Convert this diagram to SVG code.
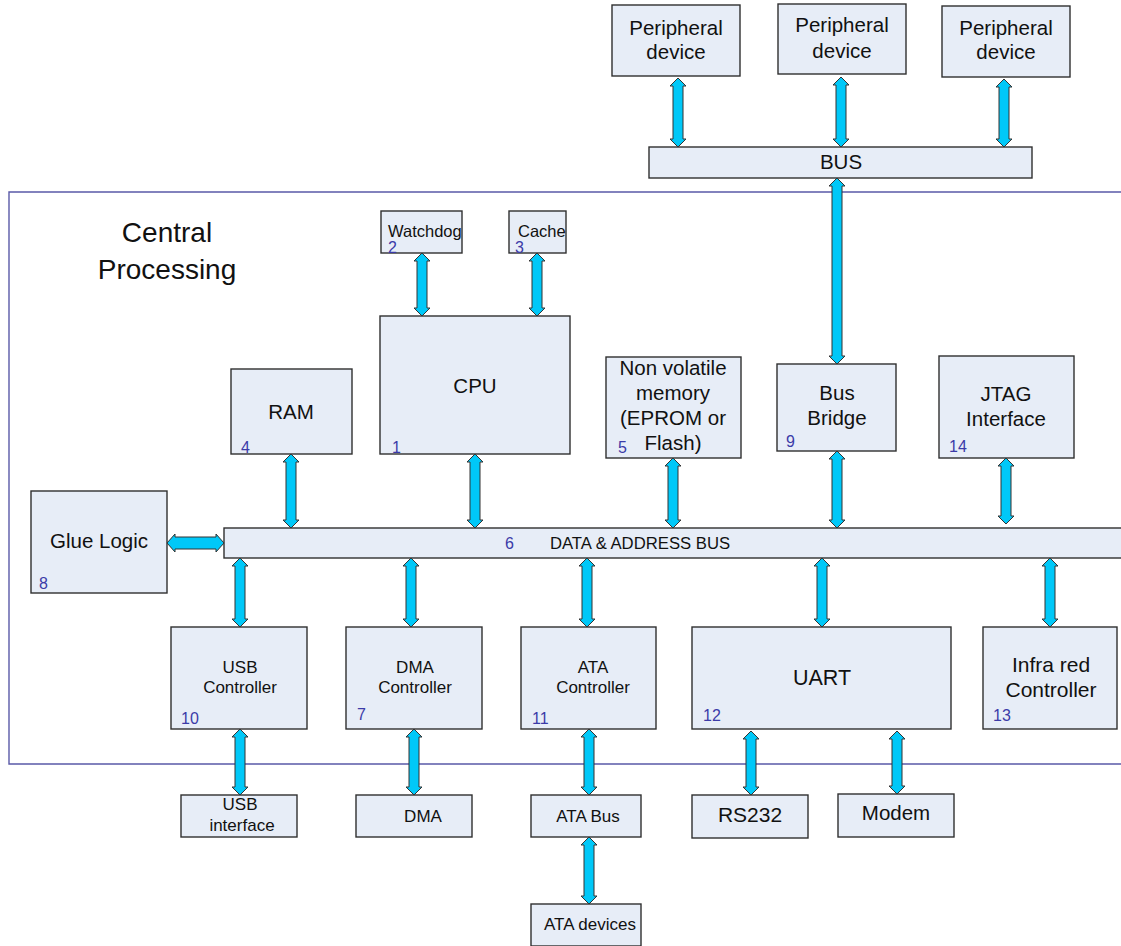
<svg xmlns="http://www.w3.org/2000/svg" width="1121" height="946" viewBox="0 0 1121 946">
  <style>
    .box { fill: #E7EDF7; stroke: #2f2f2f; stroke-width: 1.4; }
    .lbl { font-family: "Liberation Sans", Arial, sans-serif; fill: #111; text-anchor: middle; }
    .start { text-anchor: start; font-size: 16.5px; }
    .big { font-size: 20.5px; }
    .small { font-size: 17px; }
    .num { font-family: "Liberation Sans", Arial, sans-serif; fill: #3b3ba8; font-size: 16px; }
    .arrow { fill: #00C8F8; stroke: #333; stroke-width: 1; }
    .frame { fill: none; stroke: #5a5aa8; stroke-width: 1.4; }
  </style>
  <rect width="1121" height="946" fill="#ffffff"/>

  <!-- system boundary -->
  <path class="frame" d="M1121,192 L9,192 L9,764 L1121,764"/>
  <text class="lbl" x="167" y="242" font-size="28">Central</text>
  <text class="lbl" x="167" y="279" font-size="28">Processing</text>

  <!-- external bus and peripherals -->
  <g id="peripheral1"><rect class="box" x="612" y="5" width="128" height="71"/>
    <text class="lbl big" x="676" y="35">Peripheral</text>
    <text class="lbl big" x="676" y="59">device</text></g>
  <g id="peripheral2"><rect class="box" x="778" y="4" width="128" height="70"/>
    <text class="lbl big" x="842" y="32">Peripheral</text>
    <text class="lbl big" x="842" y="58">device</text></g>
  <g id="peripheral3"><rect class="box" x="942" y="6" width="128" height="71"/>
    <text class="lbl big" x="1006" y="35">Peripheral</text>
    <text class="lbl big" x="1006" y="59">device</text></g>
  <g id="bus"><rect class="box" x="649" y="147" width="383" height="31"/>
    <text class="lbl big" x="841" y="169">BUS</text></g>

  <!-- processor and companions -->
  <g id="watchdog"><rect class="box" x="381" y="211" width="81" height="42"/>
    <text class="lbl start" x="388" y="237">Watchdog</text>
    <text class="num" x="388" y="253">2</text></g>
  <g id="cache"><rect class="box" x="509" y="211" width="57" height="42"/>
    <text class="lbl start" x="518" y="237">Cache</text>
    <text class="num" x="515" y="253">3</text></g>
  <g id="cpu"><rect class="box" x="380" y="316" width="190" height="138"/>
    <text class="lbl big" x="475" y="393">CPU</text>
    <text class="num" x="392" y="453">1</text></g>
  <g id="ram"><rect class="box" x="231" y="369" width="121" height="85"/>
    <text class="lbl big" x="291" y="419">RAM</text>
    <text class="num" x="241" y="453">4</text></g>
  <g id="nvm"><rect class="box" x="606" y="357" width="135" height="101"/>
    <text class="lbl big" x="673" y="375">Non volatile</text>
    <text class="lbl big" x="673" y="400">memory</text>
    <text class="lbl big" x="673" y="425">(EPROM or</text>
    <text class="lbl big" x="673" y="450">Flash)</text>
    <text class="num" x="618" y="453">5</text></g>
  <g id="busbridge"><rect class="box" x="777" y="364" width="119" height="87"/>
    <text class="lbl big" x="837" y="400">Bus</text>
    <text class="lbl big" x="837" y="425">Bridge</text>
    <text class="num" x="786" y="447">9</text></g>
  <g id="jtag"><rect class="box" x="939" y="356" width="135" height="102"/>
    <text class="lbl big" x="1006" y="401">JTAG</text>
    <text class="lbl big" x="1006" y="426">Interface</text>
    <text class="num" x="949" y="452">14</text></g>

  <!-- internal bus -->
  <g id="databus"><rect class="box" x="224" y="528" width="900" height="30"/>
    <text class="num" x="505" y="549">6</text>
    <text class="lbl" x="640" y="549" font-size="16.7">DATA &amp; ADDRESS BUS</text></g>
  <g id="gluelogic"><rect class="box" x="31" y="491" width="136" height="102"/>
    <text class="lbl big" x="99" y="548">Glue Logic</text>
    <text class="num" x="39" y="589">8</text></g>

  <!-- controllers -->
  <g id="usbctrl"><rect class="box" x="171" y="627" width="136" height="102"/>
    <text class="lbl small" x="240" y="673">USB</text>
    <text class="lbl small" x="240" y="693">Controller</text>
    <text class="num" x="181" y="724">10</text></g>
  <g id="dmactrl"><rect class="box" x="346" y="627" width="136" height="102"/>
    <text class="lbl small" x="415" y="673">DMA</text>
    <text class="lbl small" x="415" y="693">Controller</text>
    <text class="num" x="357" y="720">7</text></g>
  <g id="atactrl"><rect class="box" x="521" y="627" width="135" height="102"/>
    <text class="lbl small" x="593" y="673">ATA</text>
    <text class="lbl small" x="593" y="693">Controller</text>
    <text class="num" x="532" y="724">11</text></g>
  <g id="uart"><rect class="box" x="692" y="627" width="259" height="102"/>
    <text class="lbl" x="822" y="685" font-size="21.5">UART</text>
    <text class="num" x="703" y="721">12</text></g>
  <g id="irctrl"><rect class="box" x="983" y="627" width="134" height="102"/>
    <text class="lbl" x="1051" y="672" font-size="21">Infra red</text>
    <text class="lbl" x="1051" y="697" font-size="21">Controller</text>
    <text class="num" x="993" y="721">13</text></g>

  <!-- external interfaces -->
  <g id="usbif"><rect class="box" x="181" y="795" width="116" height="42"/>
    <text class="lbl small" x="240" y="810">USB</text>
    <text class="lbl small" x="242" y="831">interface</text></g>
  <g id="dma"><rect class="box" x="356" y="795" width="116" height="42"/>
    <text class="lbl small" x="423" y="822">DMA</text></g>
  <g id="atabus"><rect class="box" x="531" y="795" width="110" height="42"/>
    <text class="lbl small" x="588" y="822">ATA Bus</text></g>
  <g id="atadevices"><rect class="box" x="531" y="904" width="110" height="42"/>
    <text class="lbl small" x="590" y="930">ATA devices</text></g>
  <g id="rs232"><rect class="box" x="692" y="795" width="116" height="43"/>
    <text class="lbl" x="750" y="822" font-size="21">RS232</text></g>
  <g id="modem"><rect class="box" x="838" y="794" width="116" height="43"/>
    <text class="lbl big" x="896" y="820">Modem</text></g>

  <!-- double-headed connectors -->
  <g id="connectors">
    <path class="arrow" d="M670,86 L678,78 L686,86 L683,86 L683,139 L686,139 L678,147 L670,139 L673,139 L673,86 Z"/>
    <path class="arrow" d="M833,85 L841,77 L849,85 L846,85 L846,139 L849,139 L841,147 L833,139 L836,139 L836,85 Z"/>
    <path class="arrow" d="M996,87 L1004,79 L1012,87 L1009,87 L1009,139 L1012,139 L1004,147 L996,139 L999,139 L999,87 Z"/>
    <path class="arrow" d="M829,186 L837,178 L845,186 L842,186 L842,356 L845,356 L837,364 L829,356 L832,356 L832,186 Z"/>
    <path class="arrow" d="M414,261 L422,253 L430,261 L427,261 L427,308 L430,308 L422,316 L414,308 L417,308 L417,261 Z"/>
    <path class="arrow" d="M529,261 L537,253 L545,261 L542,261 L542,308 L545,308 L537,316 L529,308 L532,308 L532,261 Z"/>
    <path class="arrow" d="M283,462 L291,454 L299,462 L296,462 L296,520 L299,520 L291,528 L283,520 L286,520 L286,462 Z"/>
    <path class="arrow" d="M467,462 L475,454 L483,462 L480,462 L480,520 L483,520 L475,528 L467,520 L470,520 L470,462 Z"/>
    <path class="arrow" d="M665,466 L673,458 L681,466 L678,466 L678,520 L681,520 L673,528 L665,520 L668,520 L668,466 Z"/>
    <path class="arrow" d="M829,459 L837,451 L845,459 L842,459 L842,520 L845,520 L837,528 L829,520 L832,520 L832,459 Z"/>
    <path class="arrow" d="M998,466 L1006,458 L1014,466 L1011,466 L1011,516 L1014,516 L1006,524 L998,516 L1001,516 L1001,466 Z"/>
    <path class="arrow" d="M232,566 L240,558 L248,566 L245,566 L245,619 L248,619 L240,627 L232,619 L235,619 L235,566 Z"/>
    <path class="arrow" d="M403,566 L411,558 L419,566 L416,566 L416,619 L419,619 L411,627 L403,619 L406,619 L406,566 Z"/>
    <path class="arrow" d="M579,566 L587,558 L595,566 L592,566 L592,619 L595,619 L587,627 L579,619 L582,619 L582,566 Z"/>
    <path class="arrow" d="M814,566 L822,558 L830,566 L827,566 L827,619 L830,619 L822,627 L814,619 L817,619 L817,566 Z"/>
    <path class="arrow" d="M1042,566 L1050,558 L1058,566 L1055,566 L1055,619 L1058,619 L1050,627 L1042,619 L1045,619 L1045,566 Z"/>
    <path class="arrow" d="M232,737 L240,729 L248,737 L245,737 L245,787 L248,787 L240,795 L232,787 L235,787 L235,737 Z"/>
    <path class="arrow" d="M406,737 L414,729 L422,737 L419,737 L419,787 L422,787 L414,795 L406,787 L409,787 L409,737 Z"/>
    <path class="arrow" d="M581,737 L589,729 L597,737 L594,737 L594,787 L597,787 L589,795 L581,787 L584,787 L584,737 Z"/>
    <path class="arrow" d="M581,845 L589,837 L597,845 L594,845 L594,896 L597,896 L589,904 L581,896 L584,896 L584,845 Z"/>
    <path class="arrow" d="M743,739 L751,731 L759,739 L756,739 L756,787 L759,787 L751,795 L743,787 L746,787 L746,739 Z"/>
    <path class="arrow" d="M889,739 L897,731 L905,739 L902,739 L902,786 L905,786 L897,794 L889,786 L892,786 L892,739 Z"/>
    <path class="arrow" d="M175,534 L167,543 L175,552 L175,549 L216,549 L216,552 L224,543 L216,534 L216,537 L175,537 Z"/>
  </g>
</svg>
